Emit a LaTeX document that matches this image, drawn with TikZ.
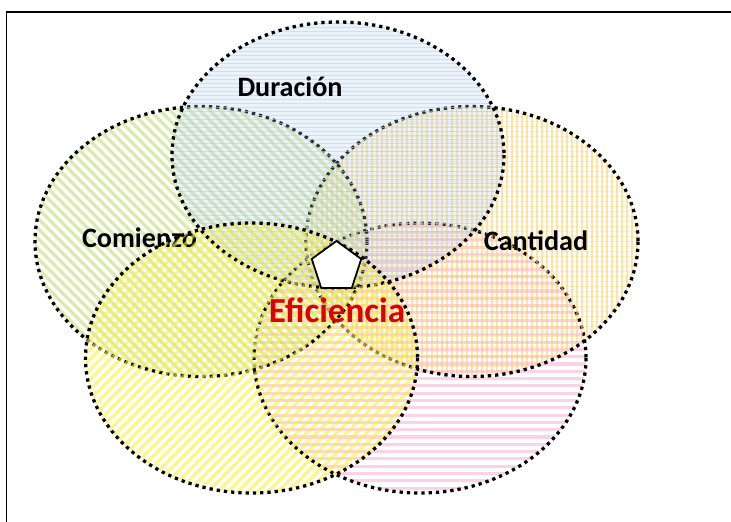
\documentclass[tikz,border=0pt]{standalone}
\usepackage{fontspec}
\setmainfont{Carlito}
\usetikzlibrary{shapes.geometric}
\definecolor{dauer}{RGB}{170,208,245}
\definecolor{beginn}{RGB}{195,220,120}
\definecolor{menge}{RGB}{255,205,95}
\definecolor{rosa}{RGB}{248,180,215}
\definecolor{gelb}{RGB}{252,240,60}
\definecolor{rot}{RGB}{222,0,0}

\begin{document}
\begin{tikzpicture}[x=0.03cm, y=-0.03cm,
    rand/.style={line width=2.8pt, dash pattern=on 2.8pt off 3.4pt},
    etikett/.style={anchor=base, font=\bfseries\fontsize{24}{28}\selectfont}]

    \useasboundingbox (0,0) rectangle (731,521);
    \begin{scope}
        \clip (0,0) rectangle (731,521);
        \draw[line width=1.7pt] (6.5,11.5) rectangle (760,560);
    \end{scope}

    % unten rechts
    \begin{scope}[shift={(420,358)}]
        \clip (0,0) ellipse (166 and 135);
        \foreach \i in {-140,-132.7,...,140}
            \draw[rosa, line width=2.6pt, opacity=0.6] (-170,\i) -- (170,\i);
    \end{scope}
    \draw[rand] (420,358) ellipse (166 and 135);

    % rechts
    \begin{scope}[shift={(472,241.5)}]
        \clip (0,0) ellipse (166 and 135);
        \foreach \i in {-170,-165,...,170}
            \draw[menge, line width=2pt, opacity=0.55] (\i,-140) -- (\i,140);
        \foreach \i in {-140,-135,...,140}
            \draw[menge, line width=0.6pt, opacity=0.3] (-170,\i) -- (170,\i);
    \end{scope}
    \draw[rand] (472,241.5) ellipse (166 and 135);
    \node[etikett] (menge) at (536,250) {Cantidad};

    % links
    \begin{scope}[shift={(201,241.5)}]
        \clip (0,0) ellipse (166 and 135);
        \foreach \i in {-320,-310,...,320}
            \draw[beginn, line width=3pt, opacity=0.6] (\i-160,-160) -- (\i+160,160);
    \end{scope}
    \draw[rand] (201,241.5) ellipse (166 and 135);
    \node[etikett] (beginn) at (139.5,247) {Comienzo};

    % oben
    \begin{scope}[shift={(338,155)}]
        \clip (0,0) ellipse (166 and 133);
        \fill[dauer, opacity=0.25] (-170,-140) rectangle (170,140);
        \foreach \i in {-140,-136,...,140}
            \draw[dauer, line width=0.7pt, opacity=0.5] (-170,\i) -- (170,\i);
    \end{scope}
    \draw[rand] (338,155) ellipse (166 and 133);
    \node[etikett] (dauer) at (290,96) {Duración};

    % unten links
    \begin{scope}[shift={(251.5,358)}]
        \clip (0,0) ellipse (166 and 135);
        \foreach \i in {-320,-310,...,320}
            \draw[gelb, line width=3pt, opacity=0.6] (\i-160,160) -- (\i+160,-160);
    \end{scope}
    \draw[rand] (251.5,358) ellipse (166 and 135);

    \node[regular polygon, regular polygon sides=5, draw, fill=white, line width=1.5pt, minimum size=1.56cm, inner sep=0pt] (fuenf) at (336.5,267) {};
    \node[anchor=base, text=rot, font=\bfseries\fontsize{30}{34}\selectfont] (eff) at (337,322) {Eficiencia};

\end{tikzpicture}
\end{document}
